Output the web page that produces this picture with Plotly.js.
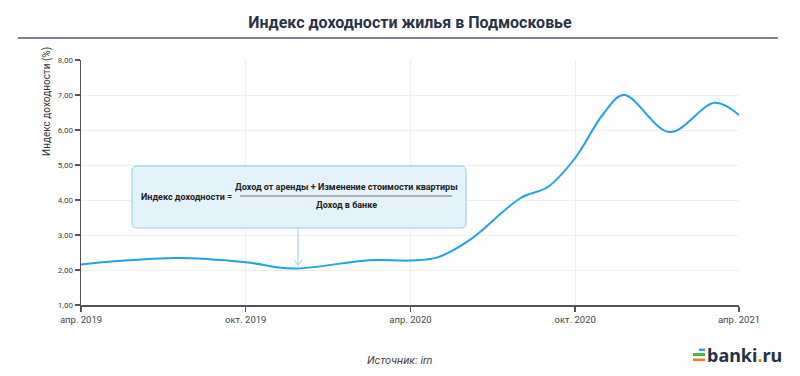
<!DOCTYPE html>
<html>
<head>
<meta charset="utf-8">
<script src="https://cdn.plot.ly/plotly-3.0.1.min.js"></script>
<style>
html,body{margin:0;padding:0;background:#fff;}
#chart{width:800px;height:376px;}
</style>
</head>
<body>
<div id="chart"></div>
<script>
// Data
const dates = ['2019-04-01','2019-07-15','2019-10-01','2019-11-22','2020-02-15','2020-04-01','2020-05-01','2020-06-06','2020-08-01','2020-09-01','2020-10-01','2020-11-01','2020-11-24','2021-01-14','2021-03-05','2021-04-01'];
const values = [2.16, 2.34, 2.22, 2.04, 2.28, 2.27, 2.36, 2.86, 4.05, 4.38, 5.20, 6.45, 7.00, 5.94, 6.78, 6.43];
const xTickVals = ['2019-04-01','2019-10-01','2020-04-01','2020-10-01','2021-04-01'];
const xTickText = ['апр. 2019','окт. 2019','апр. 2020','окт. 2020','апр. 2021'];

const narrow = '"Liberation Sans Narrow", "Roboto", "Noto Sans", sans-serif';
const W = 800, H = 376, L = 81, R = 739, T = 60, B = 305;
const px = x => (x - L) / (R - L);
const py = y => (B - y) / (B - T);

function roundRect(x0, y0, x1, y1, r) {
  const P = (x, y) => px(x) + ',' + py(y);
  return 'M' + P(x0 + r, y0) + ' L' + P(x1 - r, y0) + ' Q' + P(x1, y0) + ' ' + P(x1, y0 + r) +
    ' L' + P(x1, y1 - r) + ' Q' + P(x1, y1) + ' ' + P(x1 - r, y1) +
    ' L' + P(x0 + r, y1) + ' Q' + P(x0, y1) + ' ' + P(x0, y1 - r) +
    ' L' + P(x0, y0 + r) + ' Q' + P(x0, y0) + ' ' + P(x0 + r, y0) + ' Z';
}

const trace = {
  x: dates, y: values, type: 'scatter', mode: 'lines',
  line: {color: '#1fa3e6', width: 2, shape: 'spline', smoothing: 1},
  hoverinfo: 'x+y'
};

const boxColor = '#8ccdf0';
const layout = {
  width: W, height: H,
  margin: {l: L, r: W - R, t: T, b: H - B, pad: 0},
  paper_bgcolor: '#fff', plot_bgcolor: '#fff',
  separators: ', ',
  showlegend: false,
  font: {family: narrow, color: '#333', size: 9},
  title: {
    text: '<b>Индекс доходности жилья в Подмосковье</b>',
    font: {family: narrow, size: 16, color: '#27334a'},
    x: 0.5, xanchor: 'center', xref: 'paper',
    y: 1 - 22 / H, yanchor: 'middle', yref: 'container'
  },
  xaxis: {
    type: 'date', range: ['2019-04-01', '2021-04-01'],
    tickvals: xTickVals, ticktext: xTickText,
    showline: true, linecolor: '#555', linewidth: 1.5,
    ticks: 'outside', ticklen: 5, tickcolor: '#555', tickwidth: 1.5,
    showgrid: true, gridcolor: '#eeeeee', gridwidth: 1,
    zeroline: false,
    tickfont: {family: narrow, size: 9.5, color: '#444'}
  },
  yaxis: {
    range: [1, 8], dtick: 1, tick0: 1, tickformat: '.2f',
    showline: true, linecolor: '#555', linewidth: 1.5,
    ticks: 'outside', ticklen: 5, tickcolor: '#555', tickwidth: 1.5,
    showgrid: true, gridcolor: '#eeeeee', gridwidth: 1,
    zeroline: false,
    tickfont: {family: narrow, size: 8, color: '#444'}
  },
  shapes: [
    // rule under title
    {type: 'line', xref: 'paper', yref: 'paper', x0: px(18), x1: px(778), y0: py(38), y1: py(38),
     line: {color: '#4d5b73', width: 1.5}},
    // formula box (rounded)
    {type: 'path', xref: 'paper', yref: 'paper', path: roundRect(132, 166, 466, 228, 5),
     fillcolor: '#e4f2fb', line: {color: boxColor, width: 1}, layer: 'above'},
    // fraction line
    {type: 'line', xref: 'paper', yref: 'paper', x0: px(240), x1: px(452), y0: py(196), y1: py(196),
     line: {color: '#9a9a9a', width: 1.5}},
    // arrow
    {type: 'line', xref: 'paper', yref: 'paper', x0: px(298), x1: px(298), y0: py(228), y1: py(265),
     line: {color: boxColor, width: 1}},
    {type: 'line', xref: 'paper', yref: 'paper', x0: px(294), x1: px(298), y0: py(260), y1: py(265),
     line: {color: boxColor, width: 1}},
    {type: 'line', xref: 'paper', yref: 'paper', x0: px(302), x1: px(298), y0: py(260), y1: py(265),
     line: {color: boxColor, width: 1}},
    // logo bars
    {type: 'rect', xref: 'paper', yref: 'paper', x0: px(699), x1: px(705), y0: py(351), y1: py(348.5),
     fillcolor: '#2aa7e0', line: {width: 0}},
    {type: 'rect', xref: 'paper', yref: 'paper', x0: px(693), x1: px(705), y0: py(356), y1: py(353),
     fillcolor: '#4cb848', line: {width: 0}},
    {type: 'rect', xref: 'paper', yref: 'paper', x0: px(693), x1: px(705), y0: py(361), y1: py(358.5),
     fillcolor: '#f47d20', line: {width: 0}}
  ],
  annotations: [
    {text: 'Индекс доходности (%)', xref: 'paper', yref: 'paper', x: px(47), y: py(102),
     textangle: -90, showarrow: false, font: {family: narrow, size: 10, color: '#333'},
     xanchor: 'center', yanchor: 'middle'},
    {text: '<b>Индекс доходности =</b>', xref: 'paper', yref: 'paper', x: px(186), y: py(197),
     showarrow: false, font: {family: narrow, size: 9, color: '#222'}, xanchor: 'center', yanchor: 'middle'},
    {text: '<b>Доход от аренды + Изменение стоимости квартиры</b>', xref: 'paper', yref: 'paper', x: px(346), y: py(187),
     showarrow: false, font: {family: narrow, size: 9, color: '#222'}, xanchor: 'center', yanchor: 'middle'},
    {text: '<b>Доход в банке</b>', xref: 'paper', yref: 'paper', x: px(346), y: py(205),
     showarrow: false, font: {family: narrow, size: 9, color: '#222'}, xanchor: 'center', yanchor: 'middle'},
    {text: '<i>Источник: irn</i>', xref: 'paper', yref: 'paper', x: px(400), y: py(360),
     showarrow: false, font: {family: narrow, size: 11, color: '#444'}, xanchor: 'center', yanchor: 'middle'},
    {text: '<b>banki<span style="color:#f47d20">.</span>ru</b>', xref: 'paper', yref: 'paper', x: px(705), y: py(355),
     showarrow: false, font: {family: '"Noto Sans", "Open Sans", sans-serif', size: 18, color: '#26324b'},
     xanchor: 'left', yanchor: 'middle'}
  ]
};

Plotly.newPlot('chart', [trace], layout, {displayModeBar: false, staticPlot: true});
</script>
</body>
</html>
